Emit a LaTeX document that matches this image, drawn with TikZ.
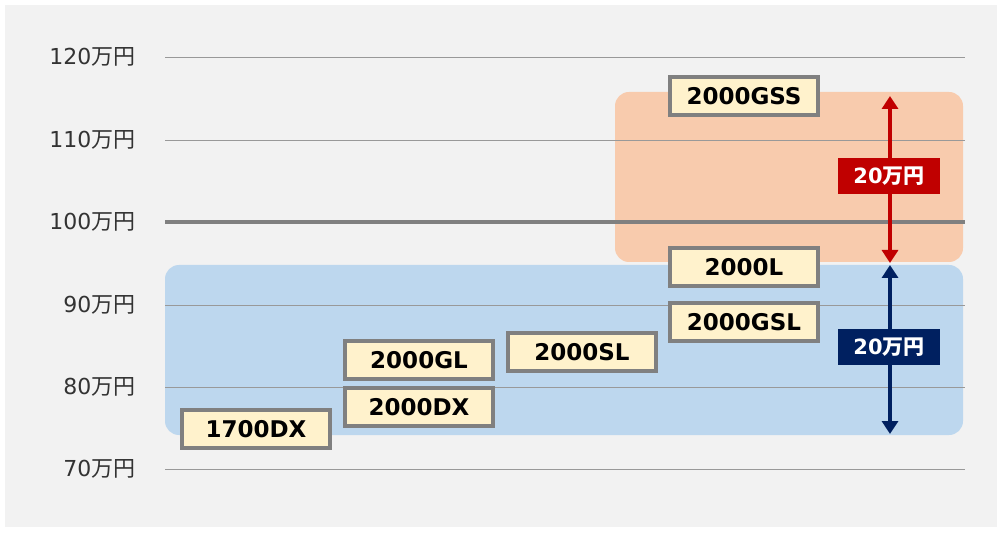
\documentclass[tikz,border=0pt]{standalone}
\usetikzlibrary{arrows.meta}
\usepackage{fontspec}
\setmainfont{DejaVu Sans}
\newfontfamily\cjk{Noto Sans CJK JP}
\definecolor{bg}{HTML}{F2F2F2}
\definecolor{bluebg}{HTML}{BDD7EE}
\definecolor{orbg}{HTML}{F8CBAD}
\definecolor{cream}{HTML}{FFF2CC}
\definecolor{bord}{HTML}{808080}
\definecolor{redc}{HTML}{C00000}
\definecolor{navy}{HTML}{002060}
\begin{document}
\begin{tikzpicture}[x=1pt,y=-1pt,
  model/.style={draw=bord,line width=4.5pt,fill=cream,minimum width=148pt,minimum height=38pt,inner sep=0pt,font=\fontsize{23}{23}\selectfont\bfseries},
  ylab/.style={anchor=east,font=\fontsize{22}{22}\selectfont,text=black!80},
  grid/.style={draw=bord!80,line width=0.6pt},
  tag/.style={minimum width=102pt,minimum height=36pt,inner sep=0pt,text=white,font=\fontsize{21}{21}\selectfont\bfseries},
  dbl/.style={line width=4pt,{Triangle[length=13pt,width=16pt]}-{Triangle[length=13pt,width=16pt]}}]
\useasboundingbox (0,0) rectangle (1003,534);
\fill[white] (0,0) rectangle (1003,534);
\fill[bg] (5,5) rectangle (997,527);
\fill[bluebg,rounded corners=14pt] (165,265) rectangle (963,435);
\fill[orbg,rounded corners=14pt] (615,92) rectangle (963,262);
\foreach \y/\t in {57/120,140/110,305/90,387/80,469/70}{
  \draw[grid] (165,\y) -- (965,\y);
  \node[ylab] at (139,\y) {\t{\cjk 万円}};}
\draw[bord,line width=4pt] (165,222) -- (965,222);
\node[ylab] at (139,222) {100{\cjk 万円}};
\node[model] (a) at (256,429) {1700DX};
\node[model] (b) at (419,407) {2000DX};
\node[model] (c) at (419,360) {2000GL};
\node[model] (d) at (582,352) {2000SL};
\node[model] (e) at (744,322) {2000GSL};
\node[model] (f) at (744,267) {2000L};
\node[model] (g) at (744,96) {2000GSS};
\coordinate (rt) at (890,96); \coordinate (rb) at (890,263);
\coordinate (bt) at (890,265); \coordinate (bb) at (890,434);
\draw[redc,dbl] (rt) -- (rb);
\draw[navy,dbl] (bt) -- (bb);
\node[tag,fill=redc] (rl) at (889,176) {20{\cjk\bfseries 万円}};
\node[tag,fill=navy] (bl) at (889,347) {20{\cjk\bfseries 万円}};
\end{tikzpicture}
\end{document}
